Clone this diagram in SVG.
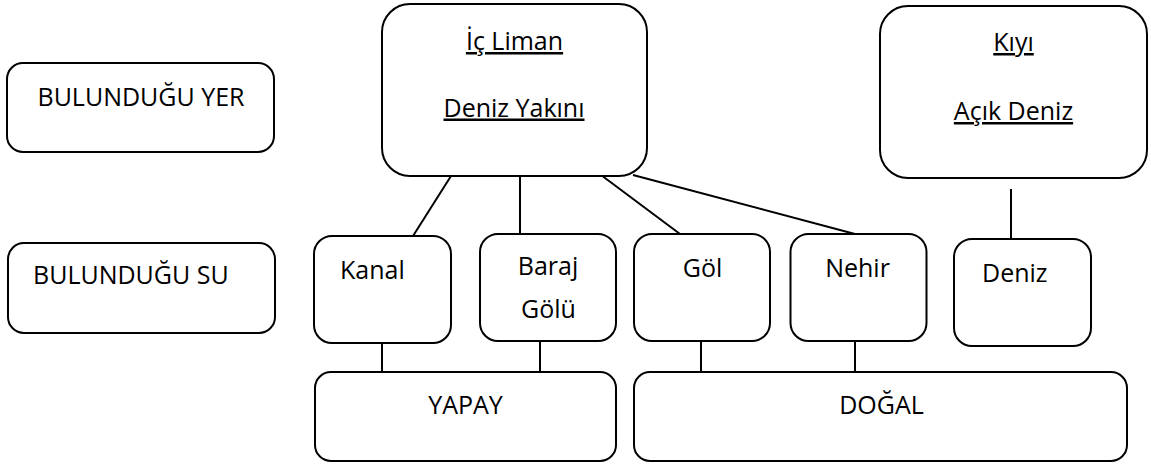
<svg xmlns="http://www.w3.org/2000/svg" width="1151" height="465" viewBox="0 0 1151 465">
<style>
  .box { fill: #ffffff; stroke: #000000; stroke-width: 2; }
  .conn line { stroke: #000000; stroke-width: 2; }
  text { font-family: "Open Sans", "Noto Sans", "DejaVu Sans", sans-serif; font-size: 25px; fill: #000000; }
  .c { text-anchor: middle; }
  .u { text-decoration: underline; text-underline-offset: 4px; text-decoration-thickness: 2px; }
</style>
<rect width="1151" height="465" fill="#ffffff"/>
<g id="connectors" class="conn">
  <line x1="451" y1="176" x2="413" y2="236"/>
  <line x1="520" y1="176" x2="520" y2="234"/>
  <line x1="601" y1="175" x2="680" y2="234"/>
  <line x1="633" y1="175" x2="855" y2="234"/>
  <line x1="1011" y1="189" x2="1011" y2="239"/>
  <line x1="382" y1="343" x2="382" y2="372"/>
  <line x1="540" y1="341" x2="540" y2="372"/>
  <line x1="701" y1="341" x2="701" y2="372"/>
  <line x1="855" y1="341" x2="855" y2="372"/>
</g>
<g id="bulundugu-yer">
  <rect class="box" x="7" y="63" width="267" height="89" rx="16"/>
  <text class="c" x="141" y="106">BULUNDUĞU YER</text>
</g>
<g id="bulundugu-su">
  <rect class="box" x="8" y="243" width="267" height="90" rx="16"/>
  <text x="33" y="284">BULUNDUĞU SU</text>
</g>
<g id="ic-liman">
  <rect class="box" x="382" y="4" width="265" height="172" rx="28"/>
  <text class="c u" x="514.5" y="50">İç Liman</text>
  <text class="c u" x="514" y="116.5">Deniz Yakını</text>
</g>
<g id="kiyi">
  <rect class="box" x="880" y="6" width="267" height="172" rx="28"/>
  <text class="c u" x="1013.5" y="51">Kıyı</text>
  <text class="c u" x="1013.5" y="120">Açık Deniz</text>
</g>
<g id="kanal">
  <rect class="box" x="314" y="236" width="137" height="107" rx="18"/>
  <text x="340" y="279">Kanal</text>
</g>
<g id="baraj-golu">
  <rect class="box" x="480" y="234" width="136" height="107" rx="18"/>
  <text class="c" x="548" y="275">Baraj</text>
  <text class="c" x="548.5" y="318">Gölü</text>
</g>
<g id="gol">
  <rect class="box" x="634" y="234" width="136" height="107" rx="18"/>
  <text class="c" x="702.5" y="277">Göl</text>
</g>
<g id="nehir">
  <rect class="box" x="790.5" y="234" width="136" height="107" rx="18"/>
  <text class="c" x="857.5" y="277">Nehir</text>
</g>
<g id="deniz">
  <rect class="box" x="954" y="239" width="137" height="107" rx="18"/>
  <text x="982" y="282">Deniz</text>
</g>
<g id="yapay">
  <rect class="box" x="315" y="372" width="301" height="89" rx="16"/>
  <text class="c" x="465.5" y="414">YAPAY</text>
</g>
<g id="dogal">
  <rect class="box" x="634" y="372" width="493" height="89" rx="16"/>
  <text class="c" x="881.5" y="413.5">DOĞAL</text>
</g>
</svg>
